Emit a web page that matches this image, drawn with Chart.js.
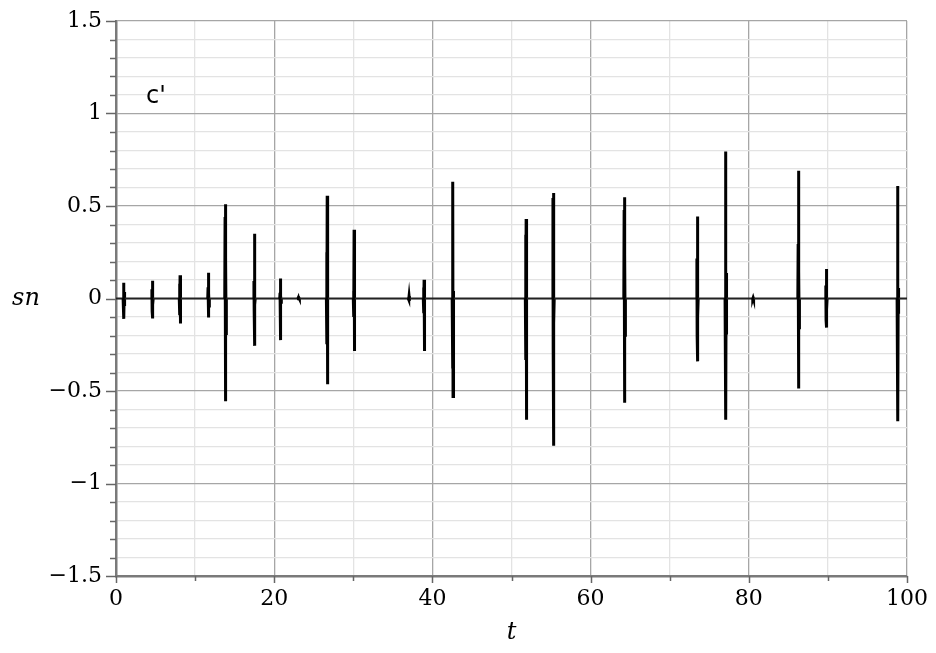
<!DOCTYPE html>
<html>
<head>
<meta charset="utf-8">
<script src="https://cdn.jsdelivr.net/npm/chart.js@4/dist/chart.umd.min.js"></script>
<style>
  html, body { margin: 0; padding: 0; background: #fff; }
  #wrap { width: 936px; height: 653px; position: relative; }
</style>
</head>
<body>
<div id="wrap"><canvas id="snChart"></canvas></div>
<script>
// spike events: time, outer max/min, inner max/min
var eventT  = [1.0, 4.6, 8.1, 11.7, 13.85, 17.5, 20.8, 23.1, 26.7, 30.1, 37.05, 38.95, 42.6, 51.85, 55.3, 64.3, 73.5, 77.1, 80.55, 86.3, 89.8, 98.85];
var peakHi  = [0.085, 0.096, 0.126, 0.139, 0.51, 0.35, 0.108, 0.008, 0.555, 0.371, 0.012, 0.101, 0.631, 0.43, 0.57, 0.547, 0.443, 0.795, 0.004, 0.69, 0.16, 0.608];
var peakLo  = [-0.11, -0.108, -0.135, -0.103, -0.556, -0.256, -0.225, -0.008, -0.463, -0.284, -0.012, -0.284, -0.53, -0.656, -0.796, -0.563, -0.34, -0.656, -0.004, -0.486, -0.157, -0.664];
var innerHi = [0.07, 0.05, 0.08, 0.06, 0.44, 0.095, 0.03, 0.004, 0.25, 0.04, 0.006, 0.06, 0.08, 0.344, 0.543, 0.478, 0.216, 0.275, 0.002, 0.294, 0.07, 0.113];
var innerLo = [-0.08, -0.07, -0.09, -0.08, -0.378, -0.07, -0.04, -0.004, -0.247, -0.1, -0.006, -0.08, -0.378, -0.333, -0.27, -0.396, -0.2, -0.388, -0.002, -0.316, -0.117, -0.165];

var tMin = 0, tMax = 100;
var yTicksMajor = 0.5;

// build the polyline that goes along zero and jumps at each event
var pts = [{x: tMin, y: 0}];
for (var i = 0; i < eventT.length; i++) {
  var t = eventT[i];
  pts.push({x: t - 0.1, y: 0});
  pts.push({x: t - 0.06, y: innerHi[i]});
  pts.push({x: t - 0.03, y: innerLo[i]});
  pts.push({x: t, y: peakHi[i]});
  pts.push({x: t + 0.01, y: peakLo[i]});
  pts.push({x: t + 0.04, y: innerHi[i] * 0.5});
  pts.push({x: t + 0.07, y: innerLo[i] * 0.5});
  pts.push({x: t + 0.1, y: 0});
}
pts.push({x: tMax, y: 0});

function isMajor(v, step) {
  var r = v / step;
  return Math.abs(r - Math.round(r)) < 1e-6;
}

function fmt(v) {
  if (Math.abs(v) < 1e-9) return '0';
  var s = String(Math.round(Math.abs(v) * 10) / 10);
  return (v < 0 ? '\u2212' : '') + s;
}

function flat(ctx) {
  return ctx.p0.parsed.y === 0 && ctx.p1.parsed.y === 0;
}

// tick marks (major longer) and text labels
var extras = {
  id: 'extras',
  afterDraw: function(chart) {
    var c = chart.ctx, a = chart.chartArea;
    var xs = chart.scales.x, ys = chart.scales.y;
    c.save();
    c.strokeStyle = '#666';
    c.lineWidth = 1.5;
    ys.ticks.forEach(function(tk) {
      var py = Math.round(ys.getPixelForValue(tk.value)) + 0.5;
      var len = isMajor(tk.value, yTicksMajor) ? 10 : 6;
      c.beginPath(); c.moveTo(a.left - len, py); c.lineTo(a.left, py); c.stroke();
    });
    xs.ticks.forEach(function(tk) {
      var px = Math.round(xs.getPixelForValue(tk.value)) + 0.5;
      var len = isMajor(tk.value, 20) ? 7 : 5;
      c.beginPath(); c.moveTo(px, a.bottom); c.lineTo(px, a.bottom + len); c.stroke();
    });
    c.fillStyle = '#000';
    c.font = '24px "DejaVu Sans"';
    c.textAlign = 'left'; c.textBaseline = 'alphabetic';
    c.fillText("c'", a.left + 30, a.top + 82);
    c.font = 'italic 24px "DejaVu Serif"';
    c.textAlign = 'center'; c.textBaseline = 'middle';
    c.fillText('sn', 26, ys.getPixelForValue(0));
    c.fillText('t', (a.left + a.right) / 2, 633);
    c.restore();
  }
};

new Chart('snChart', {
  type: 'line',
  data: {
    datasets: [{
      data: pts,
      borderColor: '#000',
      borderWidth: 3,
      pointRadius: 0,
      tension: 0,
      fill: false,
      segment: {
        borderWidth: function(ctx) { return flat(ctx) ? 2 : 3; },
        borderColor: function(ctx) { return flat(ctx) ? '#222' : '#000'; }
      }
    }]
  },
  options: {
    responsive: true,
    maintainAspectRatio: false,
    animation: false,
    events: [],
    layout: { padding: { top: 21, right: 29, left: 0, bottom: 0 } },
    plugins: { legend: { display: false }, tooltip: { enabled: false } },
    scales: {
      x: {
        type: 'linear',
        min: tMin, max: tMax,
        afterFit: function(s) { s.height = 77; s.paddingLeft = 0; s.paddingRight = 0; },
        ticks: {
          stepSize: 10, autoSkip: false, maxRotation: 0, padding: 10,
          color: '#000',
          font: { family: 'DejaVu Serif', size: 22 },
          callback: function(v) { return isMajor(v, 20) ? String(v) : ''; }
        },
        grid: {
          drawTicks: false,
          color: function(ctx) { return ctx.tick && isMajor(ctx.tick.value, 20) ? '#a6a6a6' : '#e3e3e3'; },
          lineWidth: 1.3
        },
        border: { color: '#7a7a7a', width: 2.5 }
      },
      y: {
        type: 'linear',
        min: -1.5, max: 1.5,
        afterFit: function(s) { s.width = 116; s.paddingTop = 0; s.paddingBottom = 0; },
        ticks: {
          stepSize: 0.1, autoSkip: false, padding: 14,
          color: '#000',
          font: { family: 'DejaVu Serif', size: 22 },
          callback: function(v) { return isMajor(v, yTicksMajor) ? fmt(v) : ''; }
        },
        grid: {
          drawTicks: false,
          color: function(ctx) { return ctx.tick && isMajor(ctx.tick.value, yTicksMajor) ? '#a6a6a6' : '#e3e3e3'; },
          lineWidth: 1.3
        },
        border: { color: '#7a7a7a', width: 2.5 }
      }
    }
  },
  plugins: [extras]
});
</script>
</body>
</html>
